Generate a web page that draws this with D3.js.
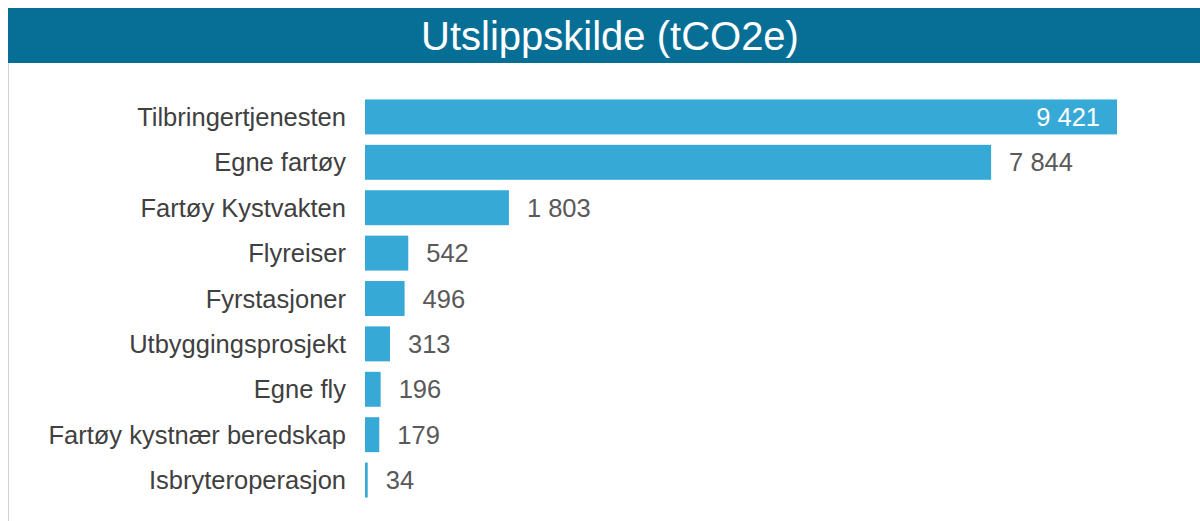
<!DOCTYPE html>
<html>
<head>
<meta charset="utf-8">
<script src="https://cdn.jsdelivr.net/npm/d3@7"></script>
<style>
  body { margin: 0; background: #fff; }
  svg { display: block; font-family: "Liberation Sans", Arial, sans-serif; }
</style>
</head>
<body>
<div id="chart"></div>
<script>
// Utslippskilde data
var categories = ["Tilbringertjenesten", "Egne fartøy", "Fartøy Kystvakten", "Flyreiser",
  "Fyrstasjoner", "Utbyggingsprosjekt", "Egne fly", "Fartøy kystnær beredskap", "Isbryteroperasjon"];
var values = [9421, 7844, 1803, 542, 496, 313, 196, 179, 34];
var title = "Utslippskilde (tCO2e)";

var width = 1200, height = 521;
var barColor = "#36a9d6";

var svg = d3.select("#chart").append("svg")
  .attr("width", width)
  .attr("height", height);

// frame line on the left
svg.append("line")
  .attr("x1", 8.5).attr("x2", 8.5)
  .attr("y1", 8).attr("y2", height)
  .attr("stroke", "#d0d0d0").attr("stroke-width", 1);

// title bar
svg.append("rect")
  .attr("x", 8).attr("y", 8)
  .attr("width", width - 8).attr("height", 55)
  .attr("fill", "#076f96");

svg.append("text")
  .attr("x", 610).attr("y", 36)
  .attr("text-anchor", "middle")
  .attr("dominant-baseline", "central")
  .attr("fill", "#fff")
  .style("font-size", "40px")
  .text(title);

var x = d3.scaleLinear()
  .domain([0, 9421])
  .range([365, 1117]);

var y = d3.scaleBand()
  .domain(categories)
  .range([94, 503])
  .paddingInner(0.23)
  .paddingOuter(0.12);

var fmt = function(v) { return d3.format(",")(v).replace(/,/g, " "); };

var rows = svg.selectAll("g.row")
  .data(categories)
  .enter().append("g")
  .attr("class", "row");

rows.append("rect")
  .attr("x", x(0))
  .attr("y", function(d) { return y(d); })
  .attr("width", function(d, i) { return Math.max(x(values[i]) - x(0), 2); })
  .attr("height", y.bandwidth())
  .attr("fill", barColor);

rows.append("text")
  .attr("x", 346)
  .attr("y", function(d) { return y(d) + y.bandwidth() / 2; })
  .attr("text-anchor", "end")
  .attr("dominant-baseline", "central")
  .attr("fill", "#404040")
  .style("font-size", "25.5px")
  .text(function(d) { return d; });

rows.append("text")
  .attr("x", function(d, i) { return i == 0 ? x(values[i]) - 17 : x(values[i]) + 18; })
  .attr("y", function(d) { return y(d) + y.bandwidth() / 2; })
  .attr("text-anchor", function(d, i) { return i == 0 ? "end" : "start"; })
  .attr("dominant-baseline", "central")
  .attr("fill", function(d, i) { return i == 0 ? "#fff" : "#595959"; })
  .style("font-size", "25.5px")
  .text(function(d, i) { return fmt(values[i]); });
</script>
</body>
</html>
